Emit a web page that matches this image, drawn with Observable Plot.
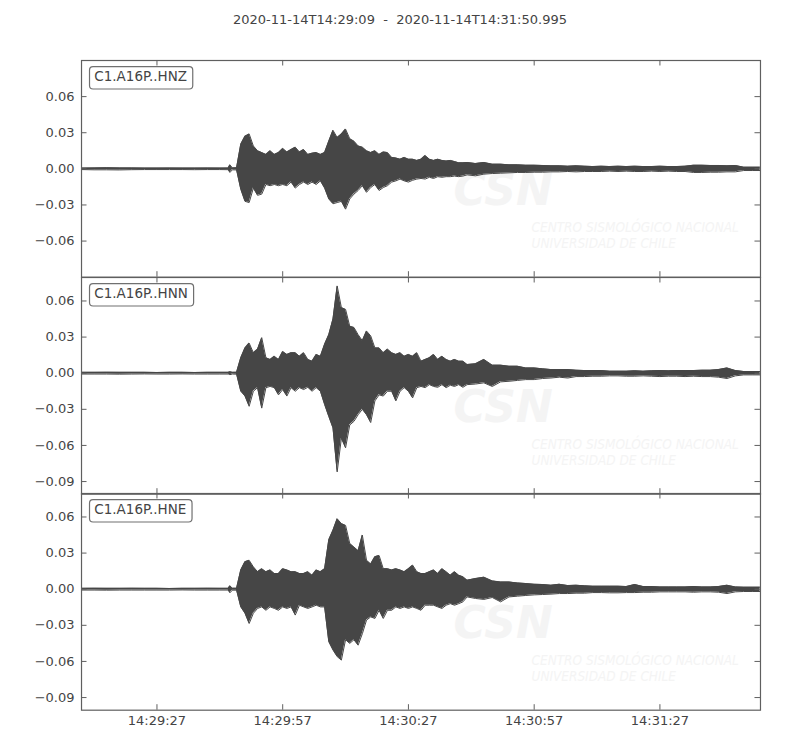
<!DOCTYPE html>
<html><head><meta charset="utf-8">
<script src="https://cdn.jsdelivr.net/npm/d3@7"></script>
<script src="https://cdn.jsdelivr.net/npm/@observablehq/plot@0.6"></script>
<style>
body{margin:0;background:#fff;font-family:"DejaVu Sans",sans-serif;}
#wrap{position:relative;width:800px;height:750px;overflow:hidden;}
#title{position:absolute;left:0;top:12px;width:800px;text-align:center;font-size:13px;line-height:15px;color:#444;white-space:pre;}
</style></head><body><div id="wrap"><div id="title"></div></div>
<script>
const titleText = "2020-11-14T14:29:09  -  2020-11-14T14:31:50.995";
const startTime = "2020-11-14T14:29:09Z";
const endTime = "2020-11-14T14:31:50.995Z";
const channels = ["C1.A16P..HNZ", "C1.A16P..HNN", "C1.A16P..HNE"];
const xTickLabels = ["14:29:27", "14:29:57", "14:30:27", "14:30:57", "14:31:27"];
const yTicksZ = [-0.06, -0.03, 0, 0.03, 0.06];
const yTicksNE = [-0.09, -0.06, -0.03, 0, 0.03, 0.06];
const yDomainZ = [-0.09, 0.09];
const yDomainNE = [-0.1005, 0.0795];
const watermark = ["CSN", "CENTRO SISMOLÓGICO NACIONAL", "UNIVERSIDAD DE CHILE"];

// seconds after start time (envelope sample times)
const seconds = [
  0,3,6,9,12,15,18,21,24,27,30,33,35,35.4,36,37,
  38,39,40,41,42,43,44,45,46,47,
  48,49,50,51,52,53,54,55,56,57,
  58,59,60,61,62,63,64,65,66,67,
  68,69,70,71,72,73,74,75,76,77,
  78,79,80,81,82,83,84,85,86,87,
  88,89,90,91,
  92,94,96,98,100,102,104,106,108,110,
  112,114,116,118,120,122,124,126,128,130,
  132,134,136,138,140,142,144,146,148,150,
  152,154,156,158,160,
  161.9
];

// HNZ envelope (upper / lower)
const hiZ = [
  .0006,.0008,.0009,.0008,.0008,.0006,.0006,.0007,.0006,.0006,.0007,.0006,.0007,.0033,.0008,.0009,
  .0205,.027,.029,.019,.015,.0135,.012,.015,.012,.0135,
  .017,.014,.016,.018,.014,.016,.012,.013,.0135,.012,
  .0135,.023,.032,.026,.029,.033,.025,.023,.019,.018,
  .015,.0135,.015,.012,.014,.0135,.0095,.009,.008,.0095,
  .008,.008,.007,.008,.011,.008,.007,.008,.007,.0065,
  .007,.006,.005,.005,
  .0053,.0044,.0053,.0039,.0039,.0033,.0033,.003,.003,.0028,
  .0025,.0025,.0022,.0025,.0022,.0019,.0022,.0019,.0022,.0019,
  .0022,.0019,.0019,.0022,.0019,.0019,.0022,.003,.003,.0028,
  .0028,.0025,.0028,.0014,.0014,
  .0014
];
const loZ = [
  -.0006,-.0008,-.0008,-.0009,-.0007,-.0006,-.0006,-.0006,-.0006,-.0007,-.0006,-.0006,-.0007,-.003,-.0008,-.0009,
  -.017,-.027,-.028,-.016,-.022,-.021,-.013,-.014,-.013,-.014,
  -.013,-.014,-.011,-.016,-.013,-.011,-.013,-.011,-.013,-.010,
  -.016,-.025,-.029,-.028,-.027,-.0335,-.025,-.021,-.018,-.014,
  -.0195,-.0155,-.013,-.018,-.0155,-.014,-.011,-.010,-.0085,-.010,
  -.011,-.0095,-.0085,-.008,-.0085,-.007,-.008,-.0065,-.007,-.0065,
  -.0065,-.006,-.0065,-.006,
  -.005,-.0058,-.0044,-.0039,-.0036,-.0033,-.003,-.003,-.0028,-.0028,
  -.0025,-.0025,-.0022,-.0025,-.0022,-.0022,-.0022,-.0019,-.0022,-.0019,
  -.0022,-.0022,-.0019,-.0022,-.0019,-.0022,-.0022,-.003,-.003,-.0028,
  -.0028,-.0025,-.0025,-.0014,-.0014,
  -.0014
];

// HNN envelope
const hiN = [
  .0007,.0007,.0008,.0007,.0007,.0007,.0006,.0007,.0007,.0006,.0007,.0007,.0007,.0012,.0007,.0008,
  .0128,.021,.025,.017,.020,.0295,.0128,.0114,.014,.0114,
  .018,.0156,.017,.017,.014,.017,.0114,.010,.0156,.014,
  .024,.032,.045,.0725,.0545,.053,.039,.038,.032,.027,
  .035,.031,.021,.021,.017,.020,.017,.0156,.017,.014,
  .0156,.014,.017,.010,.0114,.0128,.0156,.0114,.014,.0114,
  .010,.0114,.010,.010,
  .0072,.0078,.0114,.0067,.0067,.0058,.0058,.0044,.0044,.0036,
  .003,.003,.003,.0025,.0022,.0022,.0022,.0017,.0017,.0017,
  .002,.0017,.002,.0022,.002,.0022,.0022,.0022,.0025,.0025,
  .003,.0044,.0022,.0014,.0014,
  .0014
];
const loN = [
  -.0007,-.0007,-.0007,-.0008,-.0007,-.0006,-.0007,-.0007,-.0006,-.0007,-.0007,-.0007,-.0007,-.0012,-.0007,-.0008,
  -.015,-.019,-.0275,-.015,-.012,-.029,-.012,-.011,-.012,-.018,
  -.0136,-.019,-.012,-.015,-.012,-.0136,-.0117,-.015,-.012,-.015,
  -.026,-.036,-.0455,-.082,-.054,-.062,-.043,-.040,-.0345,-.030,
  -.0345,-.041,-.023,-.018,-.019,-.015,-.015,-.023,-.015,-.012,
  -.015,-.0205,-.012,-.011,-.012,-.0095,-.011,-.0117,-.0095,-.012,
  -.010,-.011,-.0095,-.0117,
  -.0095,-.009,-.008,-.011,-.0072,-.0067,-.006,-.0053,-.0053,-.0044,
  -.004,-.0033,-.004,-.0028,-.0028,-.0025,-.0025,-.0022,-.0022,-.0025,
  -.0025,-.0022,-.0025,-.0028,-.0025,-.0025,-.0028,-.0025,-.0028,-.0028,
  -.0033,-.0044,-.0022,-.0014,-.0014,
  -.0014
];

// HNE envelope
const hiE = [
  .0007,.0008,.0007,.0007,.0008,.0007,.0007,.0006,.0007,.0007,.0008,.0007,.0007,.0028,.0008,.0008,
  .016,.0228,.024,.0186,.0145,.017,.0145,.016,.013,.013,
  .017,.016,.0145,.0145,.013,.013,.0145,.0116,.016,.0145,
  .017,.041,.049,.0585,.0545,.053,.038,.035,.032,.045,
  .024,.021,.027,.028,.017,.017,.016,.017,.016,.0145,
  .017,.020,.0145,.013,.013,.0145,.016,.013,.017,.0145,
  .0116,.0145,.0116,.0103,
  .0075,.0088,.010,.0069,.006,.006,.0052,.0047,.0041,.0039,
  .0033,.0041,.003,.0033,.0028,.0025,.0025,.0025,.0025,.0022,
  .0039,.0022,.0022,.0019,.0019,.0019,.0019,.0022,.0019,.0019,
  .0022,.0033,.0019,.0017,.0017,
  .0017
];
const loE = [
  -.0007,-.0007,-.0008,-.0007,-.0007,-.0007,-.0007,-.0007,-.0006,-.0007,-.0007,-.0007,-.0007,-.003,-.0008,-.0008,
  -.0147,-.020,-.0285,-.020,-.016,-.0147,-.0175,-.0147,-.016,-.0175,
  -.0147,-.016,-.0147,-.0215,-.0133,-.0147,-.016,-.0147,-.0133,-.0147,
  -.0147,-.0436,-.0505,-.056,-.0589,-.042,-.045,-.042,-.0465,-.037,
  -.0257,-.023,-.0243,-.0175,-.0243,-.0175,-.0175,-.0147,-.016,-.0147,
  -.016,-.0147,-.016,-.0175,-.0133,-.0133,-.0133,-.0147,-.016,-.0133,
  -.012,-.0133,-.012,-.0105,
  -.0064,-.0077,-.0085,-.0069,-.0105,-.0064,-.0058,-.0052,-.0047,-.0044,
  -.0041,-.0036,-.0036,-.0033,-.0033,-.0028,-.0028,-.003,-.003,-.0028,
  -.0028,-.0025,-.0025,-.0022,-.0022,-.0022,-.0022,-.0025,-.0022,-.0022,
  -.0025,-.0036,-.0022,-.0019,-.0019,
  -.0019
];

document.getElementById("title").textContent = titleText;

const t0 = new Date(startTime), t1 = new Date(endTime);
const xTicks = xTickLabels.map(s => new Date("2020-11-14T" + s + "Z"));
const ink = "#464646", spine = "#5f5f5f", textColor = "#444", wmColor = "#f4f4f4";
const W = 800, mL = 81, mR = 40, fh = 216.7, tickLen = 5.5;
const fw = W - mL - mR;
const frameTops = [60, 276.7, 493.3];
const wrap = document.getElementById("wrap");

function panel(k, hi, lo, domain, yTicks, last) {
  const rows = seconds.map((s, i) => ({time: new Date(t0.getTime() + s * 1000), hi: hi[i], lo: lo[i]}));
  const mT = 10, mB = last ? 40 : 10;
  const svg = Plot.plot({
    width: W, height: fh + mT + mB,
    marginLeft: mL, marginRight: mR, marginTop: mT, marginBottom: mB,
    style: {background: "transparent", overflow: "visible", fontFamily: "DejaVu Sans", fontSize: "13px", color: textColor},
    x: {type: "utc", domain: [t0, t1], axis: null, label: null},
    y: {domain, axis: null, label: null},
    marks: [
      Plot.text([watermark[0]], {text: d => d, frameAnchor: "top-left", dx: 372, dy: 145, lineAnchor: "bottom", textAnchor: "start",
        fill: wmColor, fontSize: 44, fontWeight: "bold", fontStyle: "italic", fontFamily: "DejaVu Sans"}),
      Plot.text([watermark[1]], {text: d => d, frameAnchor: "top-left", dx: 450, dy: 172, lineAnchor: "bottom", textAnchor: "start",
        fill: wmColor, fontSize: 13.5, fontStyle: "italic", fontFamily: "DejaVu Sans Condensed, DejaVu Sans"}),
      Plot.text([watermark[2]], {text: d => d, frameAnchor: "top-left", dx: 450, dy: 188, lineAnchor: "bottom", textAnchor: "start",
        fill: wmColor, fontSize: 13.5, fontStyle: "italic", fontFamily: "DejaVu Sans Condensed, DejaVu Sans"}),
      Plot.areaY(rows, {x: "time", y1: "lo", y2: "hi", fill: ink}),
      Plot.line(rows, {x: "time", y: "hi", stroke: ink, strokeWidth: 1}),
      Plot.line(rows, {x: "time", y: "lo", stroke: ink, strokeWidth: 1}),
      Plot.ruleY(yTicks, {stroke: spine, insetRight: fw - tickLen}),
      Plot.ruleY(yTicks, {stroke: spine, insetLeft: fw - tickLen}),
      Plot.ruleX(xTicks, {stroke: spine, insetBottom: fh - tickLen}),
      Plot.ruleX(xTicks, {stroke: spine, insetTop: fh - tickLen}),
      Plot.frame({stroke: spine, strokeWidth: 1.2}),
      Plot.axisY(yTicks, {anchor: "left", tickSize: 0, tickPadding: 7, tickFormat: d3.format(".2f"), fontSize: 13, label: null}),
      last ? Plot.axisX(xTicks, {anchor: "bottom", tickSize: 0, tickPadding: 6, tickFormat: d3.utcFormat("%H:%M:%S"), fontSize: 13, label: null}) : null
    ]
  });
  svg.style.position = "absolute";
  svg.style.left = "0px";
  svg.style.top = (frameTops[k] - mT) + "px";
  wrap.appendChild(svg);
  const g = d3.select(svg).append("g").attr("text-anchor", "start");
  const txt = g.append("text")
    .attr("x", mL + 13.3).attr("y", mT + 21.5)
    .attr("text-anchor", "start")
    .attr("font-family", "DejaVu Sans").attr("font-size", 13.5)
    .attr("fill", textColor).text(channels[k]);
  const w = txt.node().getComputedTextLength();
  g.insert("rect", "text")
    .attr("x", mL + 8.5).attr("y", mT + 6.7)
    .attr("width", w + 10.5).attr("height", 22.3)
    .attr("rx", 3.5).attr("fill", "#fff")
    .attr("stroke", "#707070").attr("stroke-width", 1.2);
}

panel(0, hiZ, loZ, yDomainZ, yTicksZ, false);
panel(1, hiN, loN, yDomainNE, yTicksNE, false);
panel(2, hiE, loE, yDomainNE, yTicksNE, true);
</script></body></html>
